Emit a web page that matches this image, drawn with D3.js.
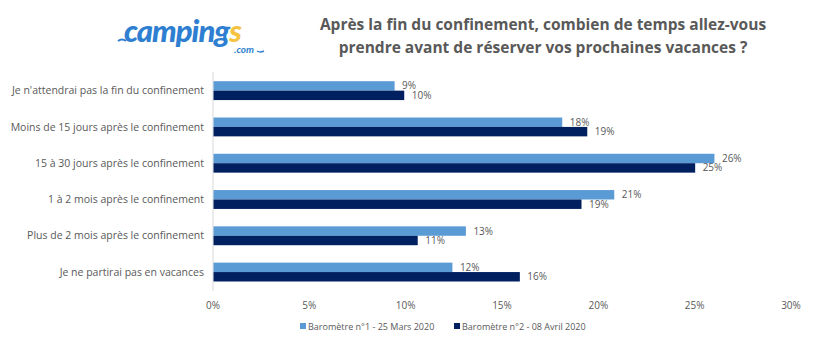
<!DOCTYPE html>
<html><head><meta charset="utf-8">
<script src="https://cdn.jsdelivr.net/npm/d3@7"></script>
<style>body{margin:0;background:#fff;} svg{display:block;}</style>
</head><body>
<svg id="c" width="815" height="352"></svg>
<script>
const categories = [
  "Je n'attendrai pas la fin du confinement",
  "Moins de 15 jours après le confinement",
  "15 à 30 jours après le confinement",
  "1 à 2 mois après le confinement",
  "Plus de 2 mois après le confinement",
  "Je ne partirai pas en vacances"
];
const seriesNames = ["Baromètre n°1 - 25 Mars 2020", "Baromètre n°2 - 08 Avril 2020"];
const series1 = [0.094, 0.181, 0.260, 0.208, 0.131, 0.124];
const series2 = [0.099, 0.194, 0.250, 0.191, 0.106, 0.159];
const ticks = [0, 0.05, 0.10, 0.15, 0.20, 0.25, 0.30];
const titleLines = ["Après la fin du confinement, combien de temps allez-vous", "prendre avant de réserver vos prochaines vacances ?"];
const colors = ["#5B9BD5", "#002060"];

const svg = d3.select("#c");
const font = "'Open Sans', 'Liberation Sans', sans-serif";
const grey = "#595959";

const x = d3.scaleLinear().domain([0, 0.30]).range([213, 791]);
const y = d3.scaleBand().domain(categories).range([72.5, 290.2]).paddingInner(0.48).paddingOuter(0.24);
const ys = d3.scaleBand().domain([0, 1]).range([0, y.bandwidth()]);

// axis line
svg.append("line").attr("x1", x(0)).attr("x2", x(0)).attr("y1", 72).attr("y2", 291)
  .attr("stroke", "#d9d9d9").attr("stroke-width", 1);

const data = categories.map((c, i) => ({c, vals: [series1[i], series2[i]]}));
const g = svg.append("g");
data.forEach(d => {
  d.vals.forEach((v, s) => {
    g.append("rect").attr("x", x(0) + 0.5).attr("y", y(d.c) + ys(s))
      .attr("width", x(v) - x(0)).attr("height", ys.bandwidth()).attr("fill", colors[s]);
    g.append("text").attr("x", x(v) + 8).attr("y", y(d.c) + ys(s) + ys.bandwidth() / 2)
      .attr("dy", "0.35em").attr("font-family", font).attr("font-size", 10).attr("fill", grey)
      .text(d3.format(".0%")(Math.round(v * 100) / 100));
  });
});

// category labels
svg.append("g").selectAll("text").data(categories).join("text")
  .attr("x", 204).attr("y", d => y(d) + y.bandwidth() / 2).attr("dy", "0.35em")
  .attr("text-anchor", "end").attr("font-family", font).attr("font-size", 10.5).attr("fill", grey)
  .text(d => d);

// x tick labels
svg.append("g").selectAll("text").data(ticks).join("text")
  .attr("x", d => x(d)).attr("y", 305).attr("dy", "0.35em").attr("text-anchor", "middle")
  .attr("font-family", font).attr("font-size", 10).attr("fill", grey)
  .text(d => d3.format(".0%")(d));

// legend
const legX = [300, 454];
seriesNames.forEach((n, i) => {
  svg.append("rect").attr("x", legX[i]).attr("y", 323).attr("width", 6).attr("height", 6).attr("fill", colors[i]);
  svg.append("text").attr("x", legX[i] + 8).attr("y", 326.5).attr("dy", "0.35em")
    .attr("font-family", font).attr("font-size", 9).attr("fill", grey).text(n);
});

// title
svg.append("g").selectAll("text").data(titleLines).join("text")
  .attr("x", 543).attr("y", (d, i) => 30 + i * 23).attr("text-anchor", "middle")
  .attr("font-family", font).attr("font-size", 15.5).attr("font-weight", "bold").attr("fill", grey)
  .text(d => d);

// logo
const logo = svg.append("g");
logo.append("text").attr("x", 124).attr("y", 42).attr("font-family", "'Lato', sans-serif")
  .attr("font-size", 31).attr("font-weight", "900").attr("font-style", "italic").attr("fill", "#2E7FD1")
  .attr("letter-spacing", "-1px")
  .text("camping")
  .append("tspan").attr("fill", "#F5C242").text("s");
logo.append("text").attr("x", 244).attr("y", 53).attr("text-anchor", "middle").attr("font-family", "'Lato', sans-serif")
  .attr("font-size", 10).attr("font-weight", "bold").attr("font-style", "italic").attr("fill", "#2E7FD1").text(".com");
logo.append("path").attr("d", "M118,41 q4,-3 8,0").attr("stroke", "#2E7FD1").attr("stroke-width", 2).attr("fill", "none");
logo.append("path").attr("d", "M257,51 q3,2 7,0").attr("stroke", "#2E7FD1").attr("stroke-width", 1.5).attr("fill", "none");
</script>
</body></html>
